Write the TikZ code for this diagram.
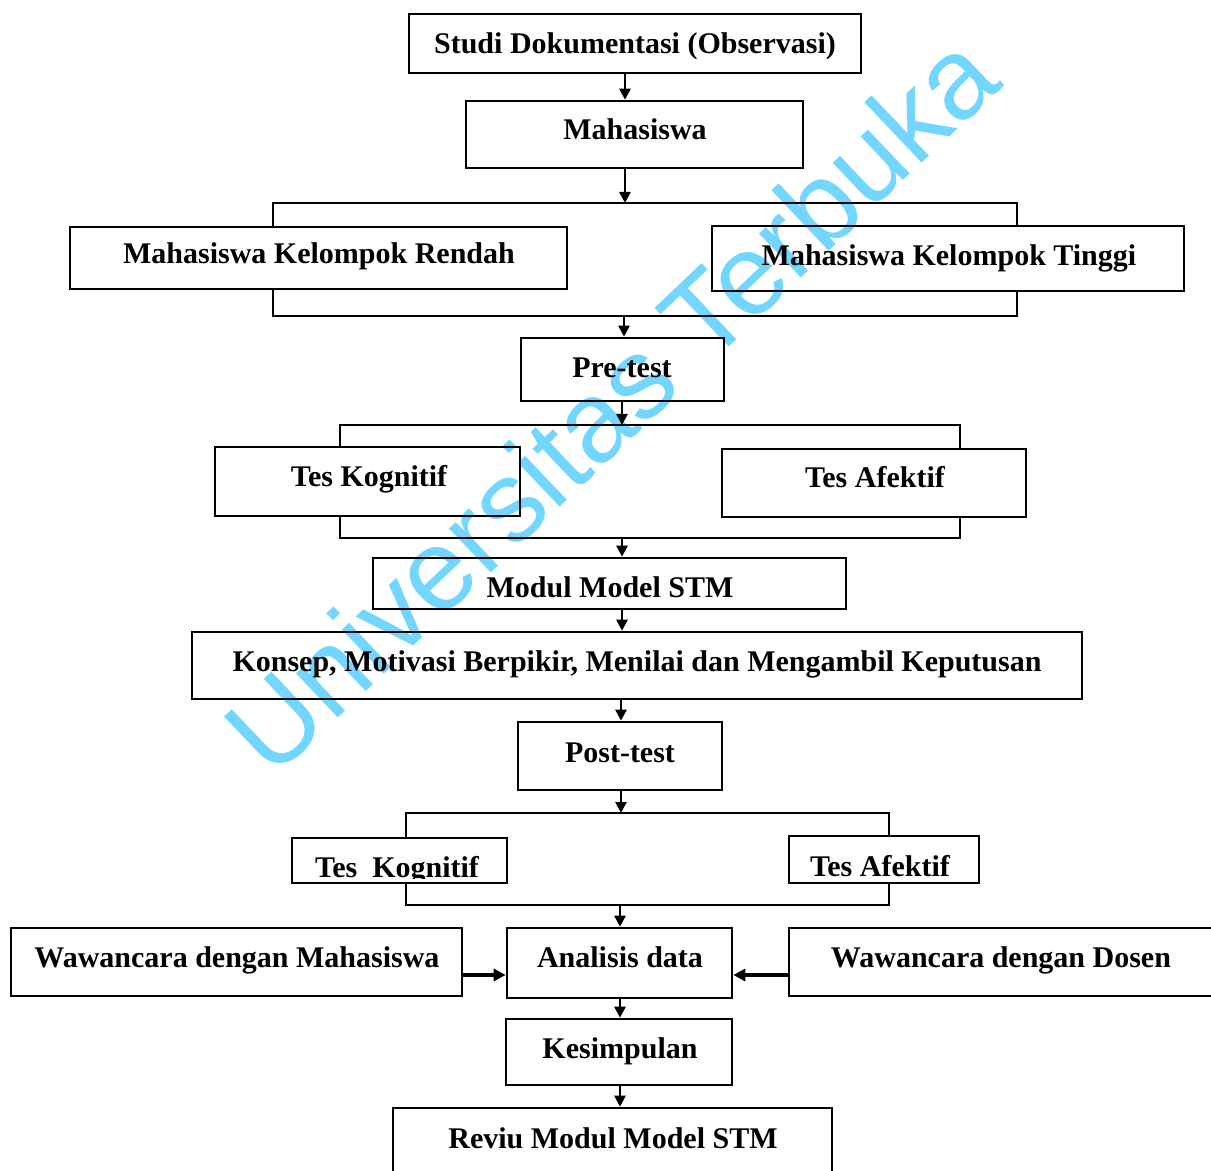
\documentclass[tikz,border=0pt]{standalone}
\usepackage{fontspec}
\setmainfont{Liberation Serif}
\newfontfamily\wmfont{Liberation Sans}
\usetikzlibrary{fit,arrows.meta}
\definecolor{wmblue}{RGB}{115,214,255}
\begin{document}
\begin{tikzpicture}[x=0.5pt,y=-0.5pt,
  box/.style={draw, line width=1.3pt, inner sep=0pt},
  lbl/.style={font=\bfseries\fontsize{15}{18}\selectfont, inner sep=0pt, anchor=base},
  link/.style={line width=1.3pt},
  arr/.style={line width=1.3pt, -{Triangle[length=5.5pt,width=5.5pt]}},
  harr/.style={line width=1.6pt, -{Triangle[length=6pt,width=6pt]}},
  wm/.style={font=\wmfont\fontsize{57.5}{60}\selectfont, text=wmblue, inner sep=0pt}]
\useasboundingbox (0,0) rectangle (1211,1171);
% watermark (below everything)
\node[wm, rotate=43.5] (wmark) at (610,403) {Universitas Terbuka};

% boxes
\node[box, fit={(409,14) (861,73)}] (studi) {};
\node[box, fit={(466,101) (803,168)}] (mhs) {};
\node[box, fit={(70,227) (567,289)}] (rendah) {};
\node[box, fit={(712,226) (1184,291)}] (tinggi) {};
\node[box, fit={(521,338) (724,401)}] (pre) {};
\node[box, fit={(215,447) (520,516)}] (kog1) {};
\node[box, fit={(722,449) (1026,517)}] (afk1) {};
\node[box, fit={(373,558) (846,609)}] (modul) {};
\node[box, fit={(192,632) (1082,699)}] (konsep) {};
\node[box, fit={(518,722) (722,790)}] (post) {};
\node[box, fit={(292,838) (507,883)}] (kog2) {};
\node[box, fit={(789,836) (979,883)}] (afk2) {};
\node[box, fit={(11,928) (462,996)}] (wmhs) {};
\node[box, fit={(507,928) (732,998)}] (anal) {};
\node[box, fit={(789,928) (1220,996)}] (wdos) {};
\node[box, fit={(506,1019) (732,1085)}] (kesim) {};
\node[box, fit={(393,1108) (832,1180)}] (reviu) {};

% texts
\node[lbl] (tstudi) at (635,54) {Studi Dokumentasi (Observasi)};
\node[lbl] (tmhs) at (635,140) {Mahasiswa};
\node[lbl] (trendah) at (319,264) {Mahasiswa Kelompok Rendah};
\node[lbl] (ttinggi) at (949,266) {Mahasiswa Kelompok Tinggi};
\node[lbl] (tpre) at (622,378) {Pre-test};
\node[lbl] (tkog1) at (369,487) {Tes Kognitif};
\node[lbl] (tafk1) at (875,488) {Tes Afektif};
\node[lbl] (tmodul) at (610,597) {Modul Model STM};
\node[lbl] (tkonsep) at (637,671) {Konsep, Motivasi Berpikir, Menilai dan Mengambil Keputusan};
\node[lbl] (tpost) at (620,762) {Post-test};
\begin{scope}
  \clip (294,840) rectangle (505,878);
  \node[lbl] (tkog2) at (397,877) {Tes\ \ Kognitif};
\end{scope}
\node[lbl] (tafk2) at (880,876) {Tes Afektif};
\node[lbl] (twmhs) at (237,967) {Wawancara dengan Mahasiswa};
\node[lbl] (tanal) at (620,967) {Analisis data};
\node[lbl] (twdos) at (1001,967) {Wawancara dengan Dosen};
\node[lbl] (tkesim) at (620,1058) {Kesimpulan};
\node[lbl] (treviu) at (613,1148) {Reviu Modul Model STM};

% bracket coordinates
\coordinate (b1t) at (625,203);
\coordinate (b1b) at (624,316);
\coordinate (b2t) at (622,425);
\coordinate (b2b) at (622,538);
\coordinate (b3t) at (621,813);
\coordinate (b3b) at (620,905);

% connectors
\draw[arr] (studi.south -| 625,0) -- (mhs.north -| 625,0);
\draw[arr] (mhs.south -| b1t) -- (b1t);
\draw[link] (rendah.north -| 273,0) -- (273,203) -- (1017,203) -- (tinggi.north -| 1017,0);
\draw[link] (rendah.south -| 273,0) -- (273,316) -- (1017,316) -- (tinggi.south -| 1017,0);
\draw[arr] (b1b) -- (pre.north -| b1b);
\draw[arr] (pre.south -| b2t) -- (b2t);
\draw[link] (kog1.north -| 340,0) -- (340,425) -- (960,425) -- (afk1.north -| 960,0);
\draw[link] (kog1.south -| 340,0) -- (340,538) -- (960,538) -- (afk1.south -| 960,0);
\draw[arr] (b2b) -- (modul.north -| b2b);
\draw[arr] (modul.south -| 622,0) -- (konsep.north -| 622,0);
\draw[arr] (konsep.south -| 621,0) -- (post.north -| 621,0);
\draw[arr] (post.south -| b3t) -- (b3t);
\draw[link] (kog2.north -| 406,0) -- (406,813) -- (889,813) -- (afk2.north -| 889,0);
\draw[link] (kog2.south -| 406,0) -- (406,905) -- (889,905) -- (afk2.south -| 889,0);
\draw[arr] (b3b) -- (anal.north -| b3b);
\draw[harr] (wmhs.east |- 0,975) -- (anal.west |- 0,975);
\draw[harr] (wdos.west |- 0,975) -- (anal.east |- 0,975);
\draw[arr] (anal.south -| 620,0) -- (kesim.north -| 620,0);
\draw[arr] (kesim.south -| 620,0) -- (reviu.north -| 620,0);
\end{tikzpicture}
\end{document}
